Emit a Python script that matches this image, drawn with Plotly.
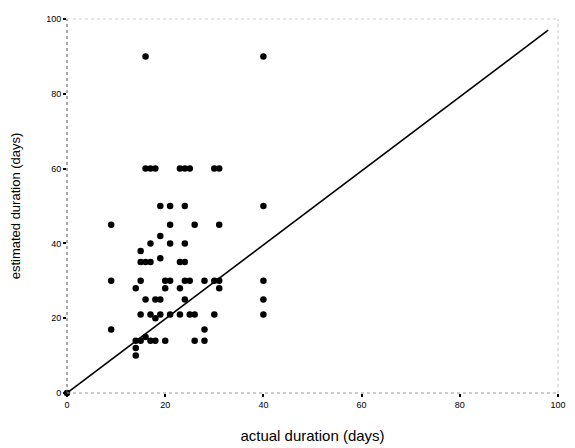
import plotly.graph_objects as go

# actual duration (days), estimated duration (days)
actual = [0,
          9, 9, 9,
          14, 14, 14, 14,
          15, 15, 15, 15, 15,
          16, 16, 16, 16, 16,
          17, 17, 17, 17, 17,
          18, 18, 18, 18,
          19, 19, 19, 19, 19,
          20, 20, 20,
          21, 21, 21, 21, 21,
          23, 23, 23, 23,
          24, 24, 24, 24, 24, 24,
          25, 25, 25,
          26, 26, 26,
          28, 28, 28,
          30, 30, 30,
          31, 31, 31, 31,
          40, 40, 40, 40, 40]
estimated = [0,
             45, 30, 17,
             28, 14, 12, 10,
             38, 35, 30, 21, 14,
             90, 60, 35, 25, 15,
             60, 40, 35, 21, 14,
             60, 25, 20, 14,
             50, 42, 36, 25, 21,
             30, 28, 14,
             50, 45, 40, 30, 21,
             60, 35, 28, 21,
             60, 50, 40, 35, 30, 25,
             60, 30, 21,
             45, 21, 14,
             30, 17, 14,
             60, 30, 21,
             60, 45, 30, 28,
             90, 50, 30, 25, 21]

line_x = [0, 98]
line_y = [0, 97]

tick_vals = [0, 20, 40, 60, 80, 100]
tick_text = ["0", "20", "40", "60", "80", "100"]

fig = go.Figure()
fig.add_trace(go.Scatter(x=line_x, y=line_y, mode="lines",
                         line=dict(color="black", width=1.6),
                         showlegend=False, hoverinfo="skip"))
fig.add_trace(go.Scatter(x=actual, y=estimated, mode="markers",
                         marker=dict(color="black", size=6.5),
                         cliponaxis=False, showlegend=False))

axis_common = dict(range=[0, 100], showgrid=False, zeroline=False,
                   showline=False, ticks="outside", ticklen=3, tickwidth=2,
                   tickcolor="black", tickvals=tick_vals, ticktext=tick_text,
                   tickfont=dict(family="Liberation Sans", size=9, color="black"))

fig.update_layout(
    width=575, height=448,
    margin=dict(l=59, r=25, t=6, b=63),
    paper_bgcolor="white", plot_bgcolor="white",
    xaxis=dict(**axis_common,
               title=dict(text="actual duration (days)", standoff=21,
                          font=dict(family="Liberation Sans", size=15, color="black"))),
    yaxis=dict(**axis_common,
               title=dict(text="estimated duration (days)", standoff=22,
                          font=dict(family="Liberation Sans", size=13, color="black"))),
    shapes=[
        dict(type="line", xref="paper", yref="paper", x0=0, x1=0, y0=0, y1=1,
             line=dict(color="#555", width=1, dash="dot")),
        dict(type="line", xref="paper", yref="paper", x0=0, x1=1, y0=0, y1=0,
             line=dict(color="#999", width=1, dash="dot")),
        dict(type="line", xref="paper", yref="paper", x0=1, x1=1, y0=0, y1=1,
             line=dict(color="#c4c4c4", width=1, dash="dot")),
        dict(type="line", xref="paper", yref="paper", x0=0, x1=1, y0=1, y1=1,
             line=dict(color="#d0d0d0", width=1, dash="dot")),
    ],
)

fig.write_html("out.html")
